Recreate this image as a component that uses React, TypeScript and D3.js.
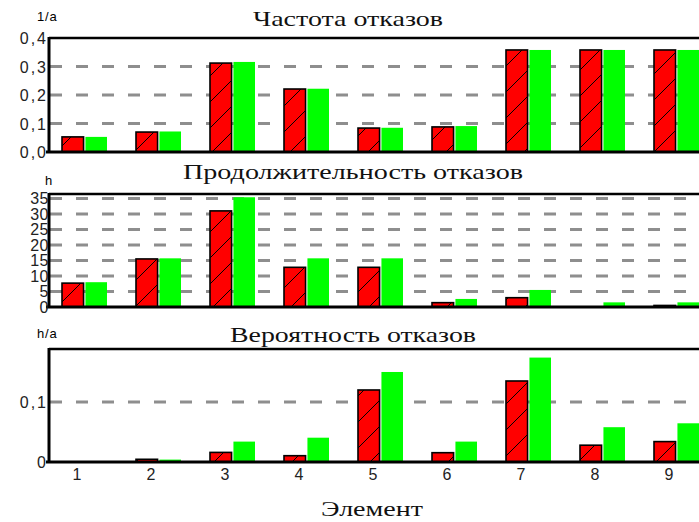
import React from "react";
import * as d3 from "d3";

const categories = ["1", "2", "3", "4", "5", "6", "7", "8", "9"];

const freqRed = [0.053, 0.07, 0.312, 0.221, 0.084, 0.088, 0.358, 0.358, 0.358];
const freqGreen = [0.053, 0.072, 0.316, 0.222, 0.085, 0.091, 0.358, 0.358, 0.358];
const freqTicks = [0, 0.1, 0.2, 0.3, 0.4];
const freqTickLabels = ["0,0", "0,1", "0,2", "0,3", "0,4"];

const durRed = [7.7, 15.5, 31, 12.8, 12.8, 1.4, 3.0, 0, 0.5];
const durGreen = [8.0, 15.7, 35.4, 15.7, 15.7, 2.6, 5.5, 1.5, 1.5];
const durTicks = [0, 5, 10, 15, 20, 25, 30, 35];
const durTickLabels = ["0", "5", "10", "15", "20", "25", "30", "35"];

const probRed = [0, 0.0045, 0.016, 0.0105, 0.12, 0.0155, 0.135, 0.028, 0.034];
const probGreen = [0, 0.004, 0.034, 0.0405, 0.15, 0.034, 0.174, 0.058, 0.0645];
const probTicks = [0, 0.1];
const probTickLabels = ["0", "0,1"];

const titles = ["Частота отказов", "Продолжительность отказов", "Вероятность отказов"];
const units = ["1/a", "h", "h/a"];
const xTitle = "Элемент";

const W = 699;
const H = 522;
const AXIS_X = 49;
const RED = "#ff0000";
const GREEN = "#00ff00";
const GRID = "#8e8e8e";
const SANS = "'Liberation Sans', Arial, sans-serif";
const SERIF = "'Liberation Serif', 'Times New Roman', serif";

const x = d3.scaleBand<string>().domain(categories).range([47, 713]).padding(0);
const sub = d3.scaleBand<string>().domain(["red", "green"]).range([-22, 23]).paddingInner(0.08);

type PanelProps = {
  top: number;
  bottom: number;
  max: number;
  red: number[];
  green: number[];
  ticks: number[];
  tickLabels: string[];
  gridTicks: number[];
  title: string;
  titleX: number;
  titleY: number;
  titleLen: number;
  unit: string;
  unitX: number;
  unitY: number;
  labelX: number;
  labelSpacing: number;
};

function Panel(p: PanelProps) {
  const y = d3.scaleLinear().domain([0, p.max]).range([p.bottom, p.top]);
  return (
    <g>
      {p.gridTicks.map((t) => (
        <line
          key={"g" + t}
          x1={AXIS_X + 1}
          x2={W}
          y1={y(t)}
          y2={y(t)}
          stroke={GRID}
          strokeWidth={3}
          strokeDasharray="12,14"
        />
      ))}
      {categories.map((c, i) => {
        const cx = (x(c) as number) + x.bandwidth() / 2;
        const rv = p.red[i];
        const gv = p.green[i];
        const rx = cx + (sub("red") as number);
        const gx = cx + (sub("green") as number);
        const bw = sub.bandwidth();
        return (
          <g key={c}>
            {rv > 0 && (
              <g>
                <rect x={rx} y={y(rv)} width={bw} height={p.bottom - y(rv)} fill={RED} />
                <rect x={rx} y={y(rv)} width={bw} height={p.bottom - y(rv)} fill="url(#hatch)" />
                <rect
                  x={rx}
                  y={y(rv)}
                  width={bw}
                  height={p.bottom - y(rv)}
                  fill="none"
                  stroke="#000"
                  strokeWidth={1.6}
                />
              </g>
            )}
            {gv > 0 && <rect x={gx} y={y(gv)} width={bw} height={p.bottom - y(gv)} fill={GREEN} />}
          </g>
        );
      })}
      <line x1={AXIS_X} x2={W} y1={p.top} y2={p.top} stroke="#000" strokeWidth={2.5} />
      <line x1={AXIS_X} x2={AXIS_X} y1={p.top - 1} y2={p.bottom + 1} stroke="#000" strokeWidth={3} />
      <line x1={46} x2={W} y1={p.bottom} y2={p.bottom} stroke="#000" strokeWidth={3} />
      {p.ticks.map((t, i) => (
        <text
          key={"t" + t}
          x={p.labelX}
          y={y(t) + 6}
          textAnchor="end"
          fontFamily={SANS}
          fontSize={16}
          letterSpacing={p.labelSpacing}
          fill="#222"
        >
          {p.tickLabels[i]}
        </text>
      ))}
      <text x={p.unitX} y={p.unitY} fontFamily={SANS} fontSize={13} letterSpacing={0.8} fill="#000">
        {p.unit}
      </text>
      <text
        x={p.titleX}
        y={p.titleY}
        textAnchor="middle"
        fontFamily={SERIF}
        fontSize={22}
        textLength={p.titleLen}
        lengthAdjust="spacingAndGlyphs"
        fill="#111"
      >
        {p.title}
      </text>
    </g>
  );
}

export default function App() {
  return (
    <svg
      width={W}
      height={H}
      viewBox={`0 0 ${W} ${H}`}
      style={{ position: "absolute", left: 0, top: 0, background: "#fff" }}
    >
      <defs>
        <pattern id="hatch" patternUnits="userSpaceOnUse" width={26} height={26}>
          <line x1={0} y1={26} x2={26} y2={0} stroke="#000" strokeWidth={1} />
        </pattern>
      </defs>
      <rect x={0} y={0} width={W} height={H} fill="#fff" />
      <Panel
        top={38}
        bottom={152}
        max={0.4}
        red={freqRed}
        green={freqGreen}
        ticks={freqTicks}
        tickLabels={freqTickLabels}
        gridTicks={[0.1, 0.2, 0.3]}
        title={titles[0]}
        titleX={348}
        titleY={26}
        titleLen={190}
        unit={units[0]}
        unitX={37}
        unitY={21}
        labelX={48}
        labelSpacing={2}
      />
      <Panel
        top={194}
        bottom={307}
        max={36.45}
        red={durRed}
        green={durGreen}
        ticks={durTicks}
        tickLabels={durTickLabels}
        gridTicks={[5, 10, 15, 20, 25, 30, 35]}
        title={titles[1]}
        titleX={353}
        titleY={179}
        titleLen={340}
        unit={units[1]}
        unitX={45}
        unitY={185}
        labelX={49}
        labelSpacing={0.5}
      />
      <Panel
        top={349}
        bottom={462}
        max={0.1883}
        red={probRed}
        green={probGreen}
        ticks={probTicks}
        tickLabels={probTickLabels}
        gridTicks={[0.1]}
        title={titles[2]}
        titleX={353}
        titleY={342}
        titleLen={246}
        unit={units[2]}
        unitX={37}
        unitY={338}
        labelX={48}
        labelSpacing={2}
      />
      {categories.map((c) => (
        <text
          key={"x" + c}
          x={(x(c) as number) + x.bandwidth() / 2 - 7}
          y={480}
          textAnchor="middle"
          fontFamily={SANS}
          fontSize={16}
          fill="#222"
        >
          {c}
        </text>
      ))}
      <text
        x={372}
        y={516}
        textAnchor="middle"
        fontFamily={SERIF}
        fontSize={22}
        textLength={102}
        lengthAdjust="spacingAndGlyphs"
        fill="#111"
      >
        {xTitle}
      </text>
    </svg>
  );
}
